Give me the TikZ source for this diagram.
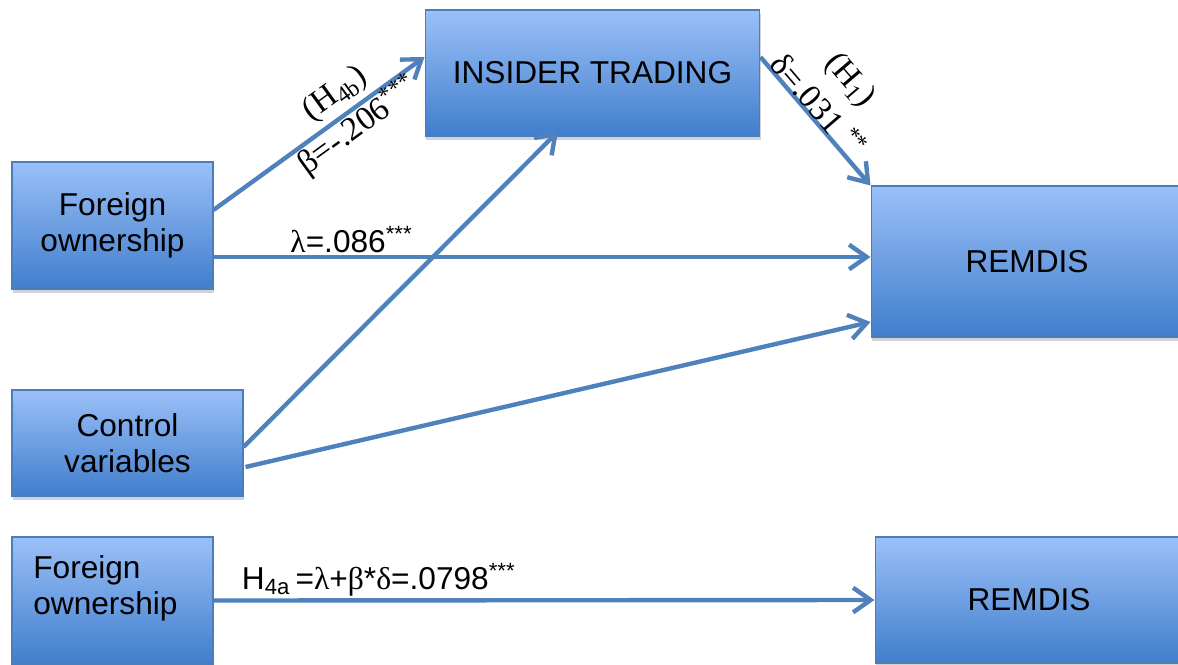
\documentclass[tikz,border=0pt]{standalone}
\usepackage{fontspec}
\setmainfont{Liberation Sans}
\newfontfamily\timesfont{Liberation Serif}
\usetikzlibrary{arrows.meta,shadows}
\definecolor{haut}{RGB}{155,192,248}
\definecolor{bas}{RGB}{64,126,204}
\definecolor{bord}{RGB}{74,126,187}
\definecolor{fleche}{RGB}{79,129,189}
\begin{document}
\begin{tikzpicture}[x=0.02cm, y=-0.02cm,
    bloc/.style={rectangle, draw=bord, line width=0.6pt, top color=haut, bottom color=bas,
        drop shadow={shadow xshift=0.5pt, shadow yshift=-2.5pt, opacity=0.35},
        font=\fontsize{18}{20.5}\selectfont, align=center, inner sep=0pt},
    lien/.style={-{Straight Barb[length=10pt, width=14pt]}, line width=2.5pt, draw=fleche},
    coef/.style={font=\fontsize{18}{20}\selectfont, inner sep=1pt},
    coefrot/.style={font=\timesfont\fontsize{19}{20}\selectfont, sloped, inner sep=0pt}]
    \useasboundingbox (0,0) rectangle (1178,664);

    % Définition des nœuds
    \node[bloc, minimum width=4.02cm, minimum height=2.54cm] (fo) at (112.5,225.5) {Foreign\\ownership};
    \node[bloc, minimum width=6.7cm, minimum height=2.52cm] (it) at (592.5,73) {INSIDER TRADING};
    \node[bloc, minimum width=6.24cm, minimum height=3.02cm] (rem) at (1027,261.5) {REMDIS};
    \node[bloc, minimum width=4.62cm, minimum height=2.12cm] (cv) at (127.5,443) {Control\\variables};
    \node[bloc, minimum width=4.02cm, minimum height=2.54cm] (fo2) at (112.5,600.5) {};
    \node[anchor=north west, align=left, inner sep=0pt, font=\fontsize{18}{20.5}\selectfont] (fo2txt) at (33,555) {Foreign\\ownership};
    \node[bloc, minimum width=6.16cm, minimum height=2.52cm] (rem2) at (1029,600) {REMDIS};

    % Points de départ
    \coordinate (fodep) at ([yshift=-0.63cm]fo.east);

    % Effet indirect par INSIDER TRADING
    \draw[lien] ([yshift=0.31cm]fo.east) -- ([yshift=0.32cm]it.west)
        node[coefrot, pos=0.64, above=3pt] {(H\textsubscript{4b})}
        node[coefrot, pos=0.64, below=-1pt] {β=-.206\textsuperscript{***}};
    \draw[lien] ([yshift=0.32cm]it.east) -- (rem.north west)
        node[coefrot, pos=0.44, above=-1pt] {δ=.031 \textsuperscript{**}}
        node[coefrot, pos=0.45, above=20pt] {(H\textsubscript{1})};

    % Effet direct
    \draw[lien] (fodep) -- (fodep -| rem.west)
        node[coef, pos=0.21, above] {{\timesfont λ}=.086\textsuperscript{***}};

    % Variables de contrôle
    \draw[lien] ([yshift=-0.08cm]cv.east) -- ([xshift=-0.69cm, yshift=0.1cm]it.south);
    \draw[lien] ([xshift=0.04cm, yshift=-0.48cm]cv.east) -- ([yshift=-1.21cm]rem.west);

    % Effet total
    \draw[lien] (fo2.east) -- (rem2.west)
        node[coef, pos=0.25, above] {H\textsubscript{4a}\,={\timesfont λ}+{\timesfont β}*{\timesfont δ}=.0798\textsuperscript{***}};

\end{tikzpicture}
\end{document}
